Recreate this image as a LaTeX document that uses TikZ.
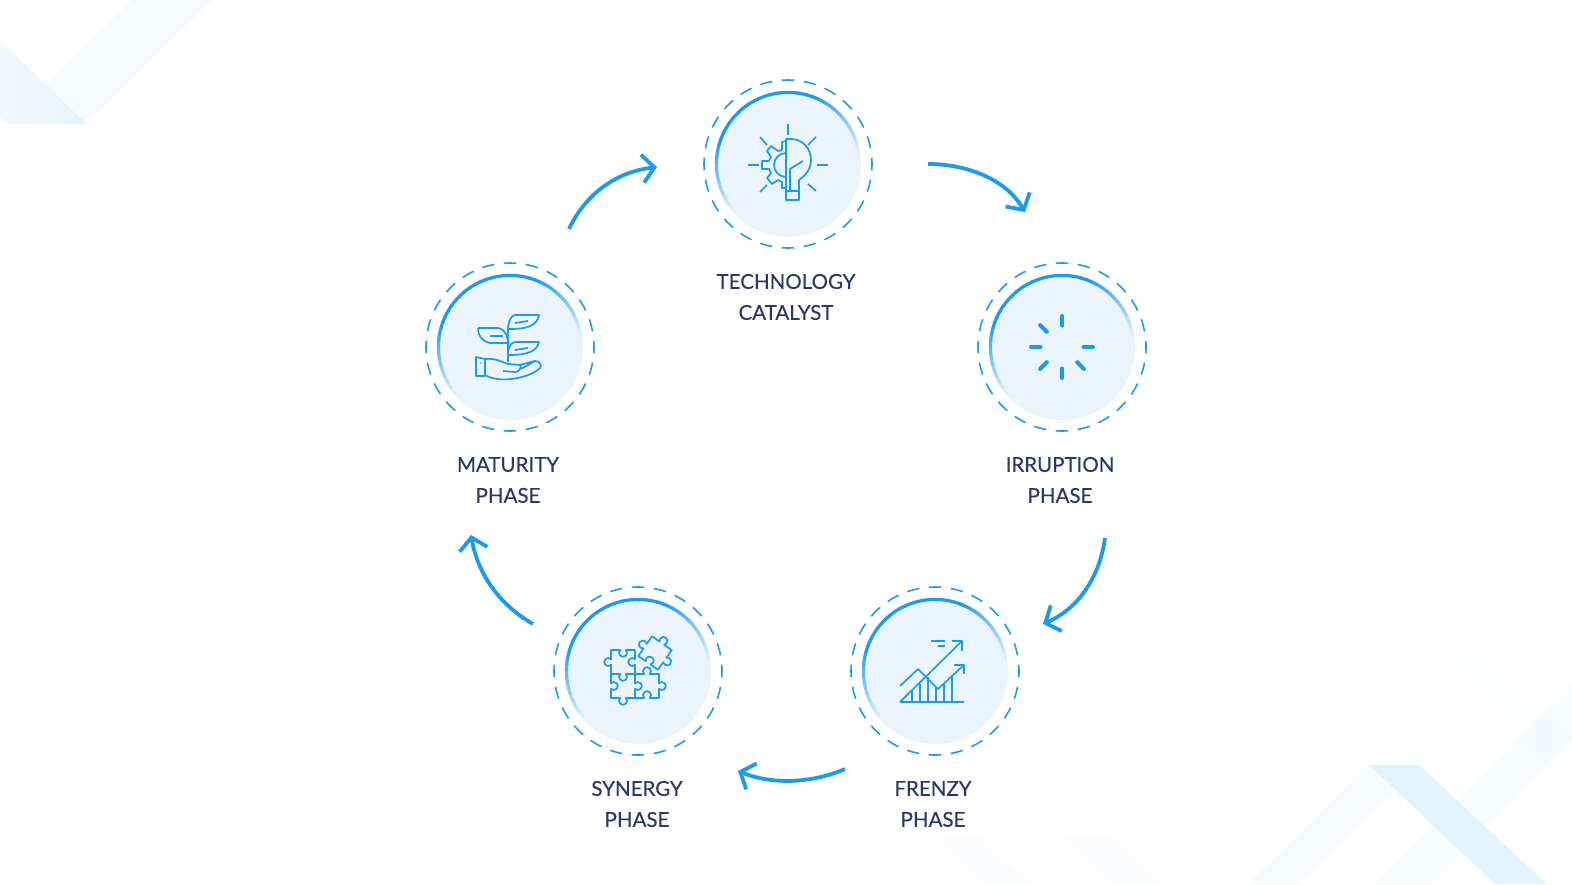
\documentclass[tikz,border=0pt]{standalone}
\usepackage{fontspec}
\setmainfont{Lato}[FakeBold=0.2]
\usepackage{tikz}
\usetikzlibrary{arrows.meta}
\definecolor{linkblue}{HTML}{1B9BF0}
\definecolor{discblue}{HTML}{EBF4FB}
\definecolor{labelnavy}{HTML}{28386A}
\definecolor{wedgeblue}{HTML}{2FA4E7}
\definecolor{wedgestrong}{HTML}{E3F3FC}
\tikzset{
	phase/.style={circle, draw=linkblue, line width=1.6pt, dash pattern=on 12.5pt off 9.49pt, dash phase=6.25pt, minimum size=168pt, inner sep=0},
	phaselabel/.style={align=center, text=labelnavy, font=\fontsize{20.5}{31}\selectfont, inner sep=0},
	phasearrow/.style={draw=linkblue, line width=3.8pt, -{Straight Barb[length=12pt,width=28pt,line width=3.8pt]}},
	iconline/.style={draw=linkblue, line width=1.7pt, line join=round},
	pale/.style={fill=wedgeblue, opacity=.04},
	faint/.style={fill=wedgeblue, opacity=.025},
	veryfaint/.style={fill=wedgeblue, opacity=.008}
}
% disc and fading ring of one phase
\newcommand{\phasedisc}[1]{%
	\begin{scope}[shift={(#1)}]
	\fill[discblue] (0,0) circle (73);
	\foreach \a in {135,140,...,345} {
		\pgfmathsetmacro\shade{100*max(0,min(1,min((\a-135)/60,(350-\a)/60)))}
		\draw[color=linkblue!\shade!discblue, line width=3.2pt] (\a:71.6) arc[start angle=\a, end angle=\a+5.6, radius=71.6];
	}
	\end{scope}}
\begin{document}
\begin{tikzpicture}[x=1pt, y=-1pt]
\useasboundingbox (0,0) rectangle (1572,884);
\fill[white] (0,0) rectangle (1572,884);
% background wedges
\fill[pale] (132,0) -- (212,0) -- (87,124) -- (7,124) -- cycle;
\shade[left color=discblue!60!white, right color=wedgestrong] (0,41) -- (87,124) -- (7,124) -- (0,117) -- cycle;
\fill[pale] (1369,765) -- (1419,765) -- (1299,884) -- (1248,884) -- cycle;
\fill[pale] (1572,685) -- (1572,740) -- (1430,884) -- (1375,884) -- cycle;
\fill[wedgestrong] (1369,765) -- (1419,765) -- (1547,884) -- (1495,884) -- cycle;
\fill[faint] (1062,836) -- (1110,836) -- (1163,884) -- (1113,884) -- cycle;
\fill[faint] (930,836) -- (978,836) -- (1032,884) -- (985,884) -- cycle;
\fill[veryfaint] (1430,650) -- (1490,650) -- (1572,735) -- (1572,795) -- cycle;

\phasedisc{788,164}
\phasedisc{1062,347}
\phasedisc{935,671}
\phasedisc{638,671}
\phasedisc{510,347}

\node[phase] (tech) at (788,164) {};
\node[phase] (irruption) at (1062,347) {};
\node[phase] (frenzy) at (935,671) {};
\node[phase] (synergy) at (638,671) {};
\node[phase] (maturity) at (510,347) {};

\node[phaselabel] (techlabel) at (786,297) {TECHNOLOGY\\CATALYST};
\node[phaselabel] (irruptionlabel) at (1060,480) {IRRUPTION\\PHASE};
\node[phaselabel] (frenzylabel) at (933,804) {FRENZY\\PHASE};
\node[phaselabel] (synergylabel) at (637,804) {SYNERGY\\PHASE};
\node[phaselabel] (maturitylabel) at (508,480) {MATURITY\\PHASE};

\coordinate (arrow1a) at (928,164);
\coordinate (arrow1b) at (1025,212);
\coordinate (arrow2a) at (1105,538);
\coordinate (arrow2b) at (1043,624);
\coordinate (arrow3a) at (845,769);
\coordinate (arrow3b) at (738,771);
\coordinate (arrow4a) at (533,624);
\coordinate (arrow4b) at (471,535);
\coordinate (arrow5a) at (569,229);
\coordinate (arrow5b) at (657,167);
\draw[phasearrow] (arrow1a) .. controls (965,164) and (1005,178) .. (arrow1b);
\draw[phasearrow] (arrow2a) .. controls (1100,575) and (1080,608) .. (arrow2b);
\draw[phasearrow] (arrow3a) .. controls (815,782) and (775,786) .. (arrow3b);
\draw[phasearrow] (arrow4a) .. controls (500,605) and (478,575) .. (arrow4b);
\draw[phasearrow] (arrow5a) .. controls (585,195) and (615,172) .. (arrow5b);

% bulb and gear
\begin{scope}[shift={(tech.center)}, iconline]
\draw (0,-40) -- (0,-29) (29,1) -- (40,1) (-40,1) -- (-29,1);
\draw (-28,-27) -- (-21,-19) (28,-27) -- (20,-19) (-28,28) -- (-21,21) (28,27) -- (20,20);
\draw (-2,-25) -- (3,-25) .. controls (15,-25) and (23,-15) .. (23,-4) .. controls (23,5) and (18,11) .. (11,16) -- (11,36) -- (-2,36) -- cycle;
\draw (-2,27) -- (11,27) (2,27) -- (2,5) -- (15,-3);
\draw (-2,-11) arc[start angle=270, end angle=90, radius=12];
\draw (-2,-23) -- (-6,-22) -- (-6,-14) -- (-10,-13) -- (-17,-18) -- (-21,-13) -- (-17,-7) -- (-19,-3) -- (-26,-3) -- (-26,5) -- (-19,5) -- (-17,9) -- (-21,14) -- (-16,20) -- (-10,16) -- (-6,18) -- (-6,24) -- (-2,24);
\end{scope}

% burst
\begin{scope}[shift={(irruption.center)}]
\foreach \a in {0,45,90,135,180,225,270} {
	\draw[draw=linkblue, line width=4pt, line cap=round] (\a:21.5) -- (\a:31);
}
\end{scope}

% chart
\begin{scope}[shift={(frenzy.center)}, iconline]
\draw (-35,31) -- (29,31) (-35,31) -- (27,-30);
\draw (17,-30) -- (27,-30) -- (27,-20);
\draw (-4,-30) -- (10,-30) (3,-25) -- (10,-25);
\draw (-35,15) -- (-17,-2) -- (3,18) -- (29,-6);
\draw (19,-6) -- (29,-6) -- (29,3);
\draw (-23,31) -- (-23,20) (-15,31) -- (-15,13) (-7,31) -- (-7,6) (1,31) -- (1,16) (9,31) -- (9,13) (17,31) -- (17,6);
\end{scope}

% puzzle
\begin{scope}[shift={(synergy.center)}, iconline]
\draw (-27,-21) -- (-17.83,-21) arc[start angle=225, end angle=-45, radius=4] -- (-3,-21) -- (-3,-11.83) arc[start angle=-45, end angle=-315, radius=4] -- (-3,3) -- (-12.17,3) arc[start angle=-45, end angle=225, radius=4] -- (-27,3) -- (-27,-6.17) arc[start angle=45, end angle=315, radius=4] -- cycle;
\draw (-3,3) -- (-3,12.17) arc[start angle=225, end angle=495, radius=4] -- (-3,27) -- (-12.17,27) arc[start angle=-45, end angle=225, radius=4] -- (-27,27) -- (-27,17.83) arc[start angle=135, end angle=-135, radius=4] -- (-27,3);
\draw (-3,3) -- (6.17,3) arc[start angle=135, end angle=405, radius=4] -- (21,3) -- (21,12.17) arc[start angle=225, end angle=495, radius=4] -- (21,27) -- (11.83,27) arc[start angle=45, end angle=-225, radius=4] -- (-3,27);
\begin{scope}[shift={(17,-18)}, rotate=-35]
\draw (-12,-12) -- (-2.83,-12) arc[start angle=135, end angle=405, radius=4] -- (12,-12) -- (12,-2.83) arc[start angle=225, end angle=495, radius=4] -- (12,12) -- (2.83,12) arc[start angle=45, end angle=-225, radius=4] -- (-12,12) -- (-12,2.83) arc[start angle=45, end angle=315, radius=4] -- cycle;
\end{scope}
\end{scope}

% plant in hand
\begin{scope}[shift={(maturity.center)}, iconline]
\draw (-34,10) -- (-25,12) -- (-25,29) -- (-34,29) -- cycle;
\fill[linkblue] (-29,16) circle (.8);
\draw (-25,12) .. controls (-14,11) and (-8,15) .. (-2,17) -- (10,18) -- (25,14) .. controls (30,14) and (32,18) .. (30,21) .. controls (20,31) and (-10,37) .. (-25,28);
\draw (-7,24) -- (5,25) .. controls (9,25) and (11,22) .. (11,17) (11,22) -- (25,14);
\draw (-2,15) -- (-2,-20) .. controls (-1,-27) and (2,-32) .. (5,-32) -- (29,-32) .. controls (27,-20) and (15,-18) .. (-1,-18);
\draw (5,-24) -- (18,-26);
\draw (-32,-19) -- (-12,-19) .. controls (-3,-17) and (-2,-8) .. (-2,-4) -- (-20,-4) .. controls (-29,-6) and (-32,-12) .. (-32,-19);
\draw (-20,-11) -- (-7,-11);
\draw (-2,5) .. controls (-1,-3) and (3,-5) .. (6,-5) -- (29,-5) .. controls (27,4) and (18,8) .. (-1,8);
\draw (5,3) -- (18,1);
\end{scope}
\end{tikzpicture}
\end{document}
